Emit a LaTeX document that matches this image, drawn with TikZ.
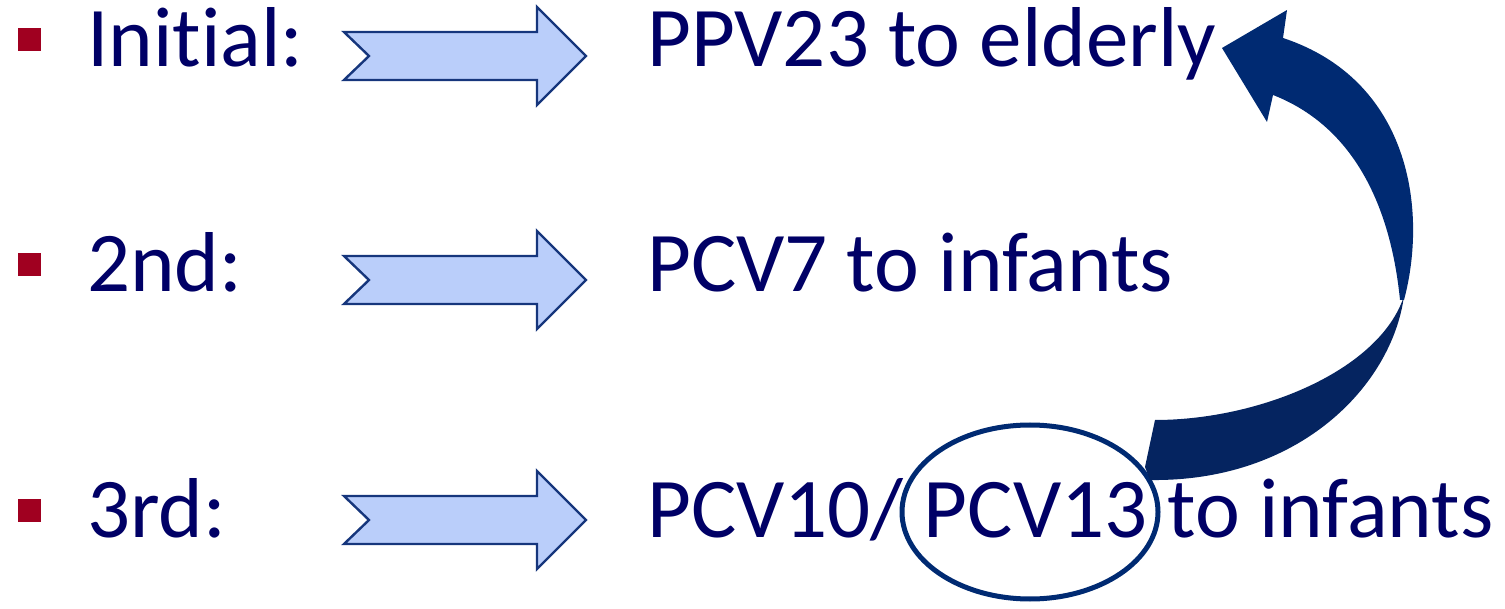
\documentclass[tikz,border=0pt]{standalone}
\usepackage{fontspec}
\setmainfont{Carlito}[Ligatures={NoCommon}]
\usetikzlibrary{positioning}
\definecolor{textnavy}{RGB}{0,0,102}
\definecolor{bulletred}{RGB}{160,0,32}
\definecolor{arrowfill}{RGB}{186,206,250}
\definecolor{arrowline}{RGB}{22,54,124}
\definecolor{curveup}{RGB}{0,42,114}
\definecolor{curvedown}{RGB}{5,36,96}
\begin{document}
\begin{tikzpicture}[x=1pt, y=-1pt]
    % Define styles
    \tikzset{
        bullet/.style={fill=bulletred, minimum size=23pt, inner sep=0pt},
        label/.style={text=textnavy, inner sep=0pt, anchor=base west, font=\fontsize{85}{100}\selectfont},
        blockarrow/.style={draw=arrowline, fill=arrowfill, line width=2.4pt, line join=miter},
        ring/.style={draw=curveup, line width=5pt}
    }
    \useasboundingbox (0,0) rectangle (1505,609);

    % Bullets
    \node[bullet] (b1) at (29.5,40) {};
    \node[bullet] (b2) at (29.5,265) {};
    \node[bullet] (b3) at (29.5,510) {};

    % Left labels
    \node[label] (l1) at (87,67) {Initial:};
    \node[label] (l2) at (87,292) {2nd:};
    \node[label] (l3) at (87,537) {3rd:};

    % Right labels
    \node[label] (r1) at (647,67) {PPV23 to elderly};
    \node[label] (r2) at (647,292) {PCV7 to infants};
    \node[label] (r3) at (647,537) {PCV10/};
    \node[label, base right=19.8pt of r3] (pcv) {PCV13};
    \node[label, base right=19.8pt of pcv] (r3b) {to infants};

    % Block arrows
    \coordinate (a1) at (344,56);
    \coordinate (a2) at (344,280);
    \coordinate (a3) at (344,520);
    \foreach \a in {a1,a2,a3}
        \draw[blockarrow] (\a) ++(0,-24) -- ++(193,0) -- ++(0,-25) -- ++(49,49)
            -- ++(-49,49) -- ++(0,-25) -- ++(-193,0) -- ++(25,-24) -- cycle;

    % Ring round PCV13
    \draw[ring] (1030,512) ellipse (128 and 87);

    % Curved arrow back up to PPV23
    \coordinate (ctail) at (1150,444);
    \coordinate (ctip) at (1222,48);
    \fill[curvedown] (1155,420) .. controls (1260,420) and (1380,370) .. (1404,296)
        .. controls (1392,385) and (1300,482) .. (1150,480) -- (1145,467) -- cycle;
    \fill[curveup] (1404,300) .. controls (1428,210) and (1410,80) .. (1283,38)
        -- (1287,10) -- (ctip) -- (1267,122) -- (1273,95)
        .. controls (1350,125) and (1390,200) .. (1400,300) -- cycle;

\end{tikzpicture}
\end{document}
